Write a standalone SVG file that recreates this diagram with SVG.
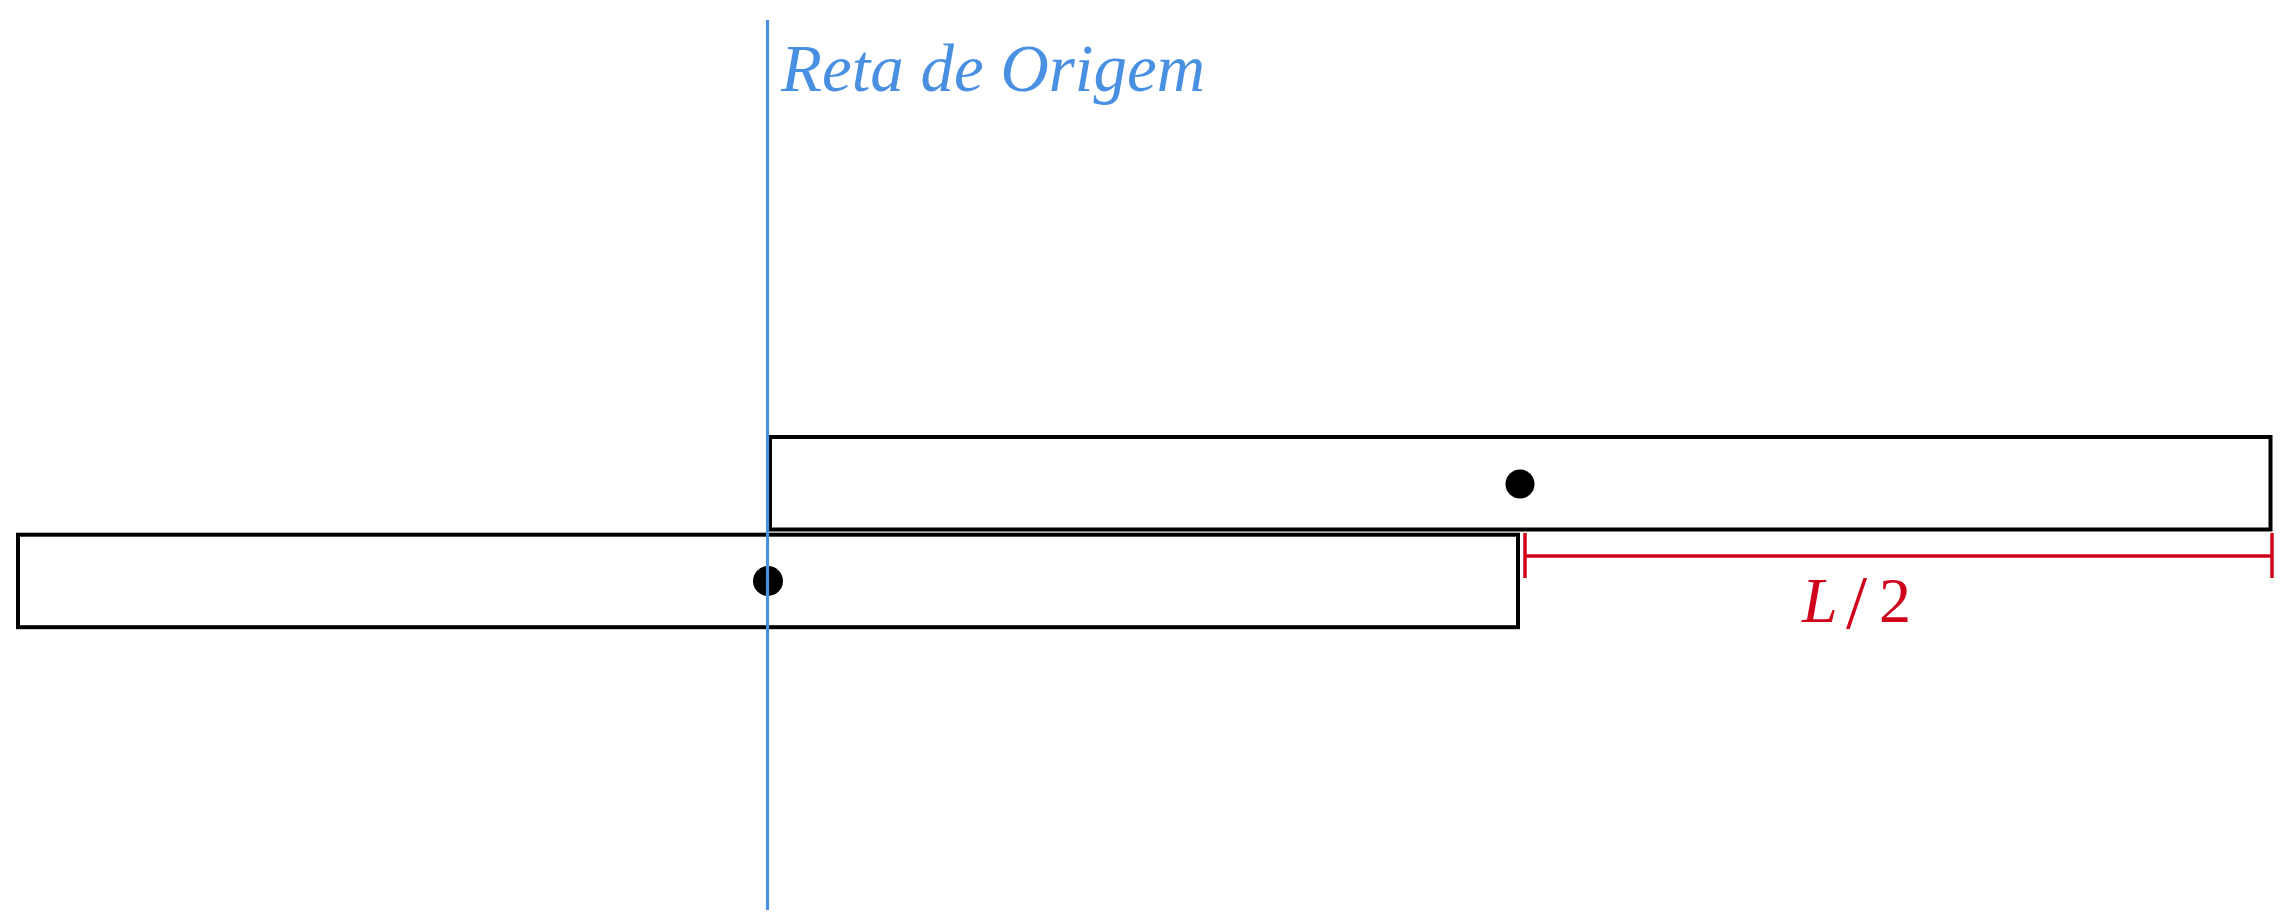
<svg xmlns="http://www.w3.org/2000/svg" width="2281" height="912" viewBox="0 0 2281 912">
  <style>
    .bar { fill: #ffffff; stroke: #000000; stroke-width: 4; }
    .dot { fill: #000000; }
    .axis { stroke: #4A90E2; stroke-width: 3.2; fill: none; }
    .dim { stroke: #D0021B; stroke-width: 3.5; fill: none; }
    .axis-label { font-family: "Liberation Serif", "DejaVu Serif", serif; font-style: italic; font-size: 67px; fill: #4A90E2; }
    .dim-label { font-family: "Liberation Serif", "DejaVu Serif", serif; font-size: 64px; fill: #D0021B; }
  </style>
  <rect width="2281" height="912" fill="#ffffff"/>
  <g id="bar-lower">
    <rect class="bar" x="18" y="534.7" width="1500" height="92.5"/>
    <circle class="dot" cx="768" cy="581" r="15"/>
  </g>
  <g id="bar-upper">
    <rect class="bar" x="770" y="437" width="1500.5" height="92.5"/>
    <circle class="dot" cx="1520" cy="484" r="14.5"/>
  </g>
  <g id="connectors">
    <g id="dimension-L2">
      <line class="dim" x1="1525" y1="556" x2="2272" y2="556"/>
      <line class="dim" x1="1525" y1="533" x2="1525" y2="578"/>
      <line class="dim" x1="2272" y1="533" x2="2272" y2="578"/>
    </g>
  </g>
  <g id="origin-line">
    <line class="axis" x1="767.5" y1="20" x2="767.5" y2="910"/>
    <text class="axis-label" x="781" y="90.5" textLength="424" lengthAdjust="spacingAndGlyphs">Reta de Origem</text>
  </g>
  <g id="dim-label">
    <text class="dim-label" y="621.5"><tspan x="1802" font-style="italic">L</tspan><tspan x="1846" y="628" font-size="76">/</tspan><tspan x="1879" y="621.5">2</tspan></text>
  </g>
</svg>
